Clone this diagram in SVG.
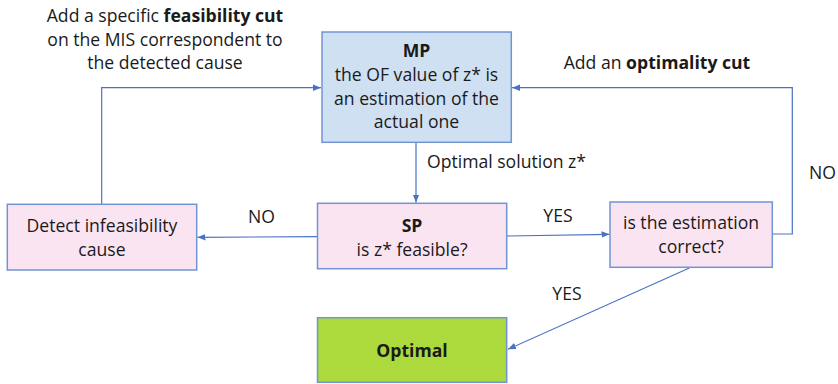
<svg xmlns="http://www.w3.org/2000/svg" width="838" height="384" viewBox="0 0 838 384">
<defs>
<style>
text{font-family:"Open Sans","Liberation Sans",sans-serif;font-size:17.6px;fill:#1a1a1a;text-anchor:middle}
.b{font-weight:bold}
.l{text-anchor:start}
.box{stroke:#7194d2;stroke-width:1.5}
.pink{fill:#fbe4f2}
.blue{fill:#cfe0f3}
.green{fill:#acd93b}
.c{fill:none;stroke:#4a72c4;stroke-width:1.2}
</style>
<marker id="a" viewBox="0 0 10 10" refX="10" refY="5" markerWidth="8" markerHeight="8" markerUnits="userSpaceOnUse" orient="auto">
<path d="M0,1 L10,5 L0,9 z" fill="#4a72c4"/>
</marker>
</defs>
<rect width="838" height="384" fill="#fff"/>
<g id="connectors">
<polyline class="c" points="101.7,204 101.7,87.7 321,87.7" marker-end="url(#a)"/>
<polyline class="c" points="772.5,234 792.3,234 792.3,87.7 512,87.7" marker-end="url(#a)"/>
<line class="c" x1="416" y1="142.5" x2="416" y2="202.5" marker-end="url(#a)"/>
<line class="c" x1="317.5" y1="236.7" x2="197.5" y2="237.3" marker-end="url(#a)"/>
<line class="c" x1="506.7" y1="236" x2="609.5" y2="234.3" marker-end="url(#a)"/>
<line class="c" x1="689.3" y1="268" x2="508" y2="349.3" marker-end="url(#a)"/>
</g>
<g id="labels">
<text x="165" y="22">Add a specific <tspan class="b">feasibility cut</tspan></text>
<text x="165" y="46">on the MIS correspondent to</text>
<text x="165" y="69">the detected cause</text>
<text x="657" y="69">Add an <tspan class="b">optimality cut</tspan></text>
<text class="l" x="427" y="168">Optimal solution z*</text>
<text class="l" x="809" y="178.5">NO</text>
<text x="261.5" y="222.5">NO</text>
<text x="558" y="221.5">YES</text>
<text x="567" y="300">YES</text>
</g>
<g id="MP">
<rect class="box blue" x="322" y="32" width="189.3" height="110.3"/>
<text class="b" x="416.5" y="57">MP</text>
<text x="416.5" y="81">the OF value of z* is</text>
<text x="416.5" y="104.5">an estimation of the</text>
<text x="416.5" y="128">actual one</text>
</g>
<g id="SP">
<rect class="box pink" x="317.5" y="203.3" width="189.2" height="65.4"/>
<text class="b" x="412" y="232">SP</text>
<text x="412" y="255.5">is z* feasible?</text>
</g>
<g id="Detect">
<rect class="box pink" x="7.3" y="204.3" width="189.4" height="65.7"/>
<text x="102" y="231.7">Detect infeasibility</text>
<text x="102" y="256">cause</text>
</g>
<g id="Estimation">
<rect class="box pink" x="610" y="202" width="162.3" height="65.3"/>
<text x="691" y="229">is the estimation</text>
<text x="691" y="253.3">correct?</text>
</g>
<g id="Optimal">
<rect class="box green" x="317.5" y="317.7" width="189.2" height="64.6"/>
<text class="b" x="412" y="357">Optimal</text>
</g>
</svg>
